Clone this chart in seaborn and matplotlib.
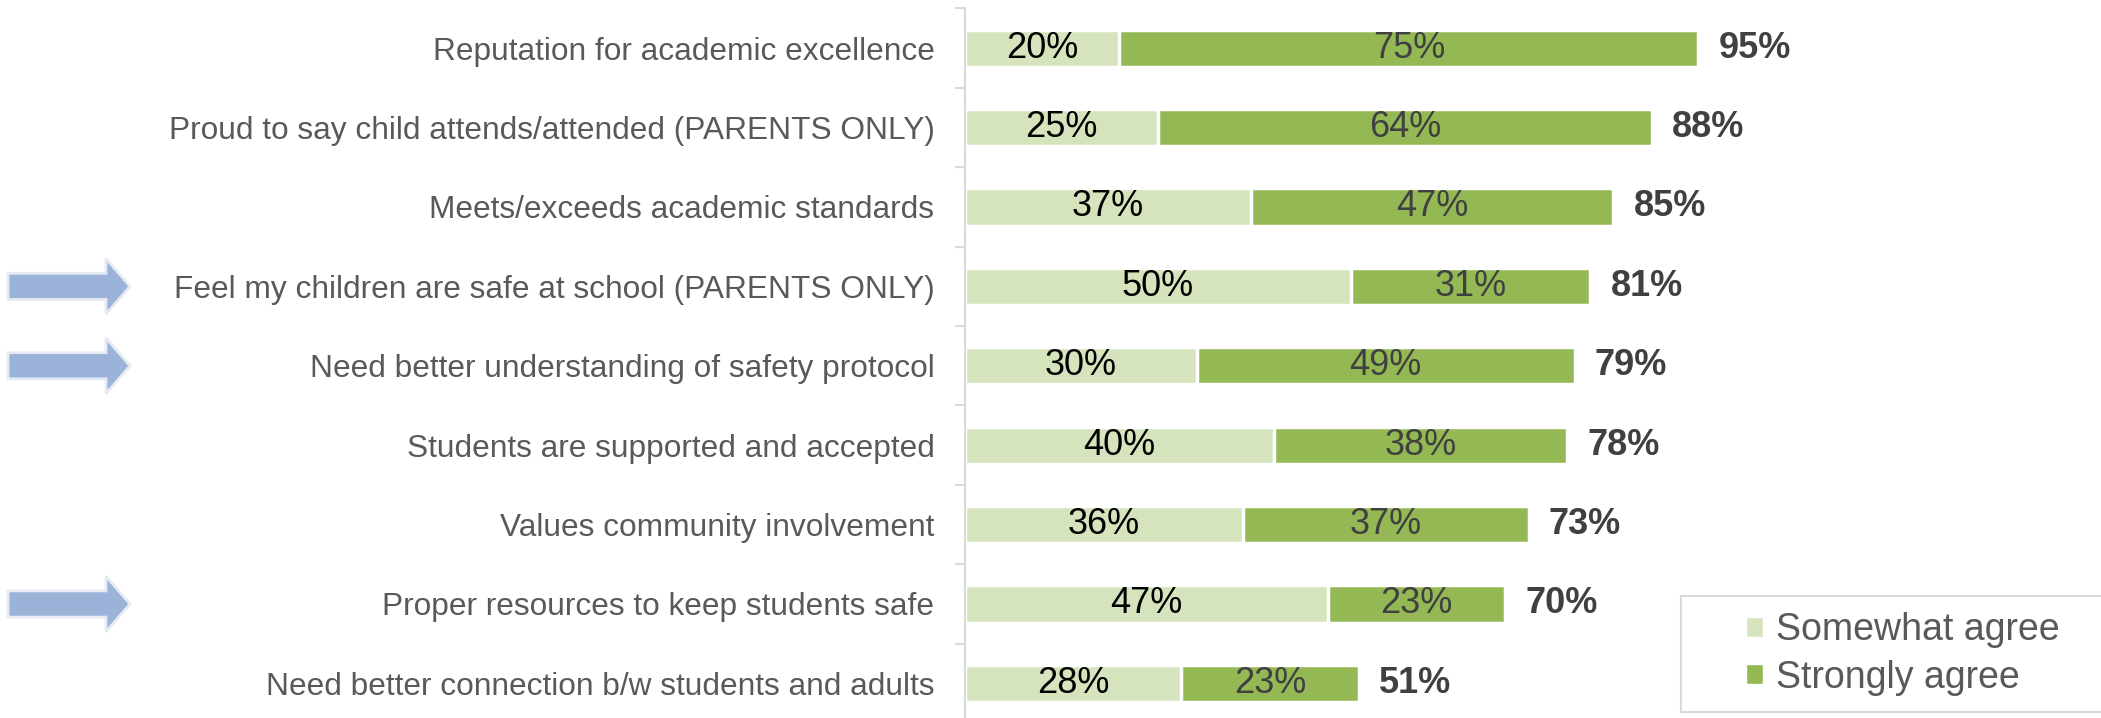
import pandas as pd
import matplotlib.pyplot as plt
import seaborn as sns
from matplotlib.patches import Patch, FancyArrow, Rectangle
from matplotlib.transforms import blended_transform_factory

# Survey items (top to bottom)
categories = [
    "Reputation for academic excellence",
    "Proud to say child attends/attended (PARENTS ONLY)",
    "Meets/exceeds academic standards",
    "Feel my children are safe at school (PARENTS ONLY)",
    "Need better understanding of safety protocol",
    "Students are supported and accepted",
    "Values community involvement",
    "Proper resources to keep students safe",
    "Need better connection b/w students and adults",
]
somewhat = [20, 25, 37, 50, 30, 40, 36, 47, 28]
strongly = [75, 64, 47, 31, 49, 38, 37, 23, 23]
totals = [95, 88, 85, 81, 79, 78, 73, 70, 51]
highlighted = [3, 4, 7]  # rows marked with an arrow

LIGHT = "#D5E4BD"
DARK = "#94B954"
TEXT = "#595959"

df = pd.DataFrame({"item": categories, "somewhat": somewhat, "strongly": strongly, "total": totals})
df["stack"] = df["somewhat"] + df["strongly"]

sns.set_theme(style="white")
plt.rcParams["font.family"] = ["Liberation Sans", "DejaVu Sans"]

W, H = 2101, 718
fig = plt.figure(figsize=(W / 100, H / 100), dpi=100)
ax = fig.add_axes([965 / W, -0.0071, 1 - 965 / W, 0.9953])

# stacked bars: full stack in dark green, then the light part on top
sns.barplot(data=df, x="stack", y="item", color=DARK, width=0.47, orient="h",
            edgecolor="white", linewidth=2.5, saturation=1, ax=ax)
sns.barplot(data=df, x="somewhat", y="item", color=LIGHT, width=0.47, orient="h",
            edgecolor="white", linewidth=2.5, saturation=1, ax=ax)

ax.set_xlim(0, (W - 965) / 7.72)
ax.set_ylim(8.5, -0.5)
ax.set_xlabel("")
ax.set_ylabel("")
ax.set_xticks([])

# segment and total labels
for i, row in df.iterrows():
    ax.text(row["somewhat"] / 2, i, f"{row['somewhat']}%", ha="center", va="center",
            fontsize=26, color="black")
    ax.text(row["somewhat"] + row["strongly"] / 2, i, f"{row['strongly']}%", ha="center",
            va="center", fontsize=26, color="#404040")
    ax.text(row["stack"] + 2.6, i, f"{row['total']}%", ha="left", va="center",
            fontsize=26, fontweight="bold", color="#404040")

# axis styling
for side in ["top", "right", "bottom"]:
    ax.spines[side].set_visible(False)
ax.spines["left"].set_color("#D9D9D9")
ax.spines["left"].set_linewidth(1.5)
ax.tick_params(axis="y", which="major", length=0, pad=22, labelsize=22.8, labelcolor=TEXT)
ax.set_yticks([i + 0.5 for i in range(-1, 9)], minor=True)
ax.tick_params(axis="y", which="minor", length=7, width=1.5, color="#D9D9D9", left=True)

# arrows next to safety related items
trans = blended_transform_factory(fig.transFigure, ax.transData)
for i in highlighted:
    arrow = FancyArrow(8 / W, i, 122 / W, 0, width=0.33, head_width=0.7,
                       head_length=24 / W, length_includes_head=True,
                       facecolor="#9CB3D9", edgecolor="#E6EBF3", linewidth=2,
                       transform=trans, clip_on=False)
    fig.add_artist(arrow)

# legend (box runs off the right edge, as in the source)
fig.add_artist(Rectangle((1681 / W, 6 / H), 450 / W, 116 / H, transform=fig.transFigure,
                         facecolor="white", edgecolor="#D9D9D9", linewidth=1.5))
handles = [Patch(facecolor=LIGHT, label="Somewhat agree"),
           Patch(facecolor=DARK, label="Strongly agree")]
leg = fig.legend(handles=handles, loc="center left", bbox_to_anchor=(1746 / W, 64 / H),
                 fontsize=27, frameon=False, handlelength=0.45, handleheight=0.45,
                 handletextpad=0.35, borderpad=0, labelspacing=0.3, borderaxespad=0)
for t in leg.get_texts():
    t.set_color(TEXT)

fig.savefig("out.png", dpi=100)
